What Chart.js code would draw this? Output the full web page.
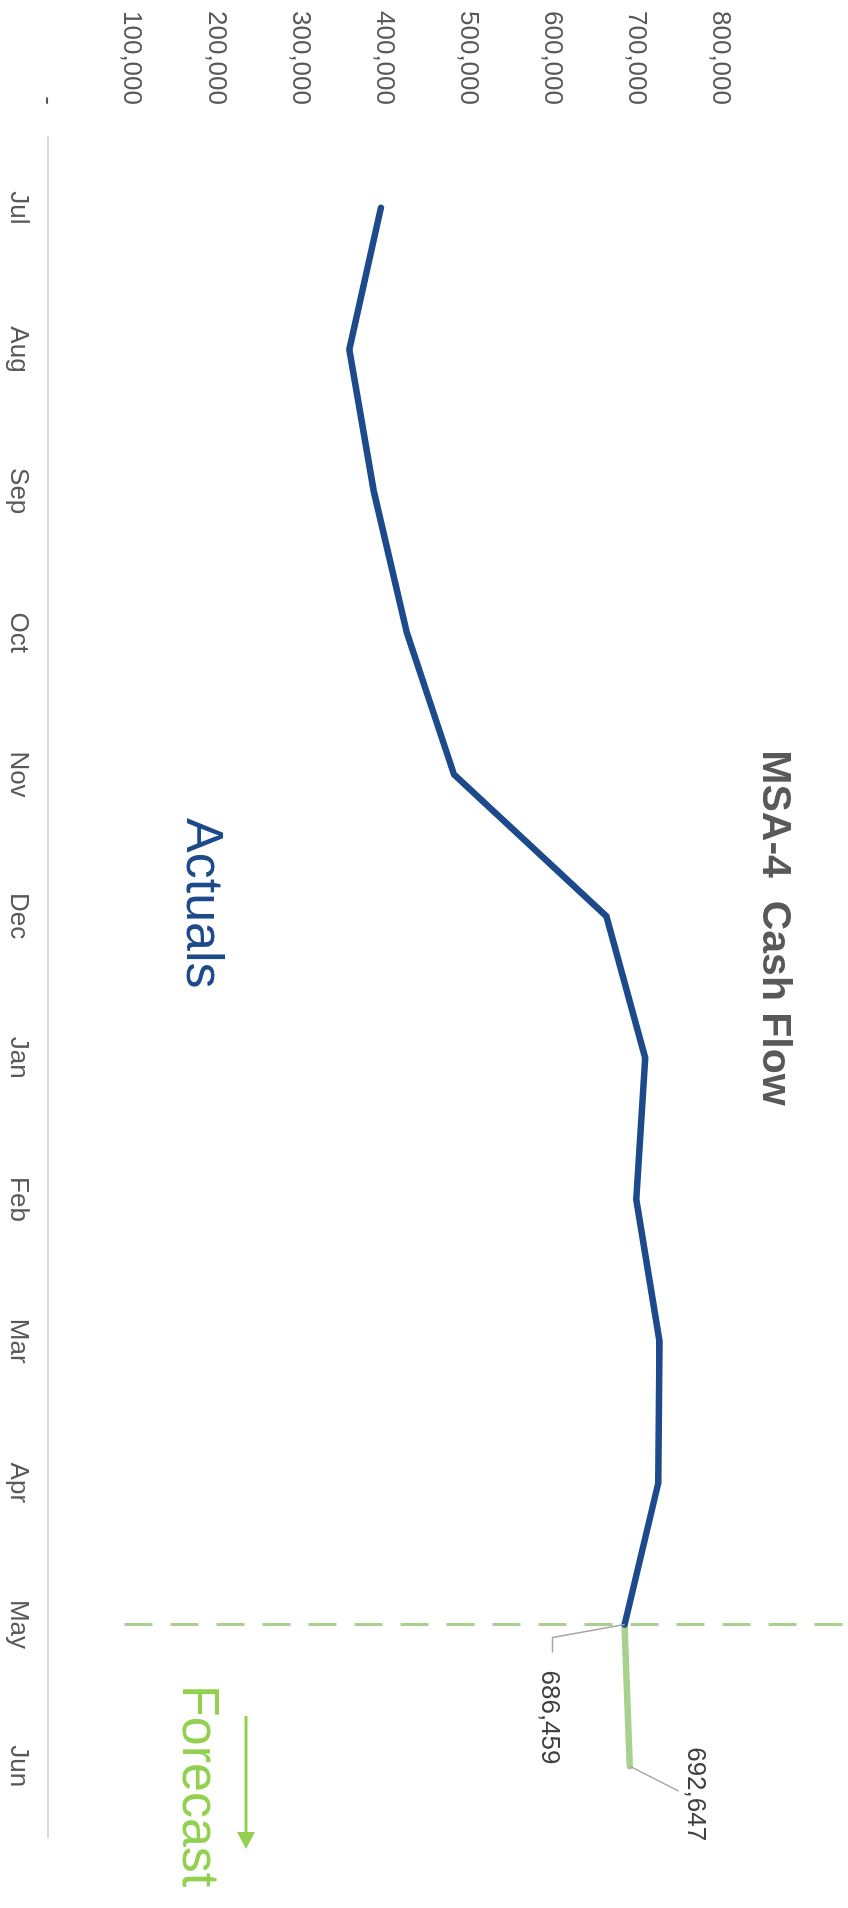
<!DOCTYPE html>
<html>
<head>
<meta charset="utf-8">
<title>MSA-4 Cash Flow</title>
<script src="https://cdn.jsdelivr.net/npm/chart.js@4.4.1/dist/chart.umd.min.js"></script>
<style>
  html, body { margin: 0; padding: 0; background: #fff; overflow: hidden; }
  /* chart is laid out landscape and turned a quarter clockwise onto the page */
  #wrap {
    position: absolute; top: 0; left: 0;
    width: 1908px; height: 848px;
    transform-origin: 0 0;
    transform: translate(848px, 0) rotate(90deg);
  }
</style>
</head>
<body>
<div id="wrap"><canvas id="cashFlow" width="1908" height="848"></canvas></div>
<script>
// ── DATA ──
const MONTHS   = ['Jul','Aug','Sep','Oct','Nov','Dec','Jan','Feb','Mar','Apr','May','Jun'];
const ACTUALS  = [396600, 359000, 388000, 427400, 483500, 664700, 711000, 700300, 728000, 726600, 686459, null];
const FORECAST = [null, null, null, null, null, null, null, null, null, null, 686459, 692647];
const Y_TICKS  = [0, 100000, 200000, 300000, 400000, 500000, 600000, 700000, 800000];
const SPLIT_IDX = 10; // May — last actual, first forecast month

const BLUE  = '#1c4a8a';
const GREEN = '#a9d18e';
const LIME  = '#92d050';
const GREY  = '#595959';
const FONT  = '"Liberation Sans", Arial, Helvetica, sans-serif';

Chart.defaults.font.family = FONT;

const fmt = v => v === 0 ? '-' : v.toLocaleString('en-US');

// ── OVERLAY: split line, title, captions, data labels ──
const overlay = {
  id: 'overlay',
  beforeDatasetsDraw(chart) {
    const { ctx, chartArea, scales: { x } } = chart;
    const px = x.getPixelForValue(SPLIT_IDX);
    ctx.save();
    ctx.strokeStyle = GREEN;
    ctx.lineWidth = 3;
    ctx.setLineDash([28, 18]);
    ctx.beginPath();
    ctx.moveTo(px, chartArea.bottom - 77);
    ctx.lineTo(px, 0);
    ctx.stroke();
    ctx.restore();
  },
  afterDatasetsDraw(chart) {
    const { ctx } = chart;
    ctx.save();
    ctx.textBaseline = 'alphabetic';

    // title
    ctx.fillStyle = GREY;
    ctx.font = 'bold 41px ' + FONT;
    ctx.textAlign = 'center';
    ctx.fillText('MSA-4  Cash Flow', 928, 85);

    // section captions
    ctx.textAlign = 'left';
    ctx.font = '52px ' + FONT;
    ctx.fillStyle = BLUE;
    ctx.fillText('Actuals', 818, 661);
    ctx.fillStyle = LIME;
    ctx.fillText('Forecast', 1685, 665);

    // forecast arrow
    ctx.strokeStyle = LIME;
    ctx.lineWidth = 3;
    ctx.beginPath();
    ctx.moveTo(1716, 602);
    ctx.lineTo(1834, 602);
    ctx.stroke();
    ctx.fillStyle = LIME;
    ctx.beginPath();
    ctx.moveTo(1849, 602);
    ctx.lineTo(1832, 593);
    ctx.lineTo(1832, 611);
    ctx.closePath();
    ctx.fill();

    // data labels with leader lines on the forecast points
    const pts = chart.getDatasetMeta(1).data;
    ctx.font = '26px ' + FONT;
    ctx.fillStyle = '#404040';
    ctx.strokeStyle = '#a6a6a6';
    ctx.lineWidth = 1.5;

    const a = pts[SPLIT_IDX];
    ctx.beginPath();
    ctx.moveTo(a.x, a.y);
    ctx.lineTo(a.x + 13, a.y + 72);
    ctx.lineTo(a.x + 28, a.y + 72);
    ctx.stroke();
    ctx.textAlign = 'left';
    ctx.fillText(fmt(FORECAST[SPLIT_IDX]), a.x + 46, a.y + 83);

    const b = pts[SPLIT_IDX + 1];
    ctx.beginPath();
    ctx.moveTo(b.x, b.y);
    ctx.lineTo(b.x + 25, b.y - 49);
    ctx.stroke();
    ctx.textAlign = 'center';
    ctx.fillText(fmt(FORECAST[SPLIT_IDX + 1]), b.x + 28, b.y - 58);

    ctx.restore();
  }
};

// ── CHART ──
new Chart(document.getElementById('cashFlow'), {
  type: 'line',
  data: {
    labels: MONTHS,
    datasets: [
      { label: 'Actuals', data: ACTUALS, borderColor: BLUE, borderWidth: 6.5,
        borderCapStyle: 'round', pointRadius: 0, tension: 0 },
      { label: 'Forecast', data: FORECAST, borderColor: GREEN, borderWidth: 6.5,
        borderCapStyle: 'round', pointRadius: 0, tension: 0 }
    ]
  },
  options: {
    responsive: false,
    animation: false,
    events: [],
    layout: { padding: { top: 128, right: 71, bottom: 0, left: 0 } },
    plugins: { legend: { display: false }, title: { display: false }, tooltip: { enabled: false } },
    scales: {
      x: {
        offset: true,
        grid: { display: false, drawTicks: false },
        border: { display: true, color: '#d9d9d9', width: 2 },
        ticks: { color: GREY, font: { size: 26 }, padding: 14, autoSkip: false, maxRotation: 0 },
        afterFit: s => { s.height = 46; }
      },
      y: {
        min: 0, max: 800000,
        grid: { display: false, drawTicks: false },
        border: { display: false },
        afterBuildTicks: s => { s.ticks = Y_TICKS.map(v => ({ value: v })); },
        ticks: { color: GREY, font: { size: 26 }, padding: 32, callback: v => fmt(v) },
        afterFit: s => { s.width = 137; }
      }
    }
  },
  plugins: [overlay]
});
</script>
</body>
</html>
